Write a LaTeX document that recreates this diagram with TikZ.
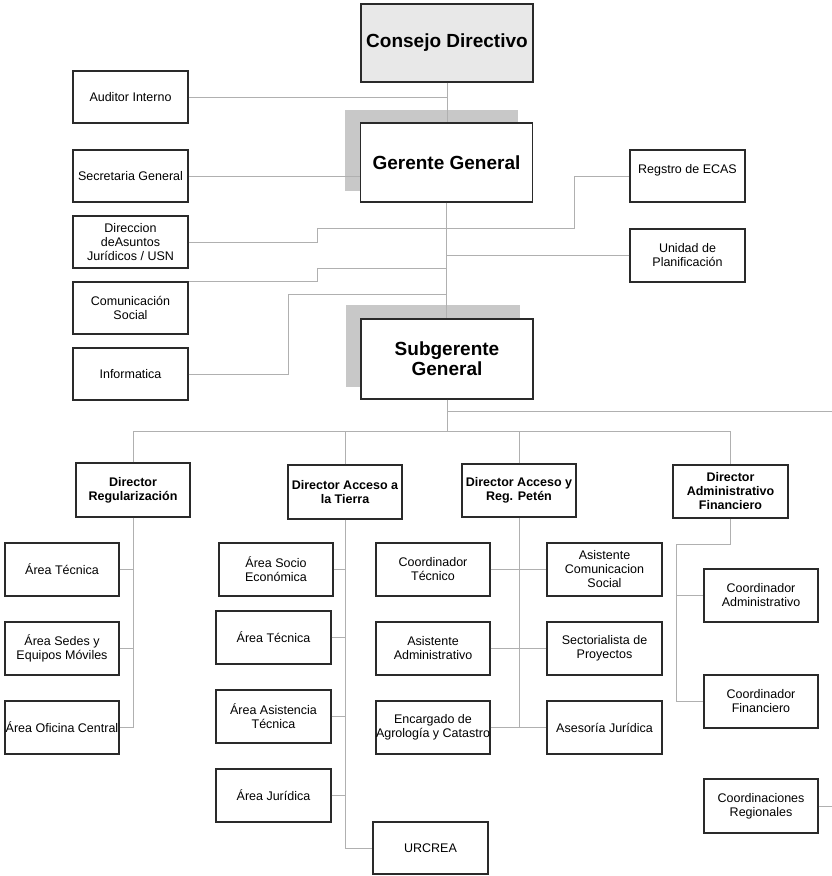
\documentclass[tikz,border=0pt]{standalone}
\usepackage{fontspec}
\setmainfont{Liberation Sans}
\usetikzlibrary{backgrounds}
\definecolor{linegray}{HTML}{B0B0B0}
\definecolor{shadegray}{HTML}{C8C8C8}
\definecolor{topfill}{HTML}{E8E8E8}
\definecolor{edgecol}{HTML}{2A2A2A}
\begin{document}
\begin{tikzpicture}[x=1pt,y=-1pt,
  box/.style={draw=edgecol, line width=1.4pt, fill=white, inner sep=0pt, align=center,
    minimum width=115pt, minimum height=53pt, font=\fontsize{12.5}{14}\selectfont},
  dirbox/.style={box, font=\fontsize{12.5}{14}\selectfont\bfseries},
  bigbox/.style={box, minimum width=172pt, minimum height=79pt, font=\fontsize{19}{20}\selectfont\bfseries},
  conn/.style={draw=linegray, line width=0.9pt},
  shade/.style={fill=shadegray}
]
\useasboundingbox (0,0) rectangle (832,876);

% top level
\node[bigbox, fill=topfill, minimum height=78pt] (cons) at (447,43) {Consejo Directivo};
\node[bigbox] (ger) at (446.5,162.5) {Gerente General};
\node[bigbox, minimum height=80pt] (sub) at (447,359) {Subgerente\\General};

% left staff
\node[box, minimum height=52pt] (aud) at (130.5,97) {Auditor Interno};
\node[box, minimum height=52pt] (sec) at (130.5,176) {Secretaria General};
\node[box, minimum height=52pt] (dja) at (130.5,242) {Direccion\\deAsuntos\\Jurídicos / USN};
\node[box, minimum height=52pt] (com) at (130.5,308) {Comunicación\\Social};
\node[box, minimum height=52pt] (inf) at (130.5,374) {Informatica};

% right staff
\node[box, minimum height=52pt] (ecas) at (687.5,176) {Regstro de ECAS\\\mbox{}};
\node[box] (upl) at (687.5,255.5) {Unidad de\\Planificación};

% directors
\node[dirbox, minimum width=114pt, minimum height=54pt] (dreg) at (133,490) {Director\\Regularización};
\node[dirbox, minimum width=114pt, minimum height=54pt] (dtie) at (345,492) {Director Acceso a\\la Tierra};
\node[dirbox, minimum width=114pt] (dpet) at (519,490.5) {Director Acceso y\\Reg. Petén};
\node[dirbox] (daf) at (730.5,491.5) {Director\\Administrativo\\Financiero};

% Regularización areas
\node[box, minimum width=114pt] (a1) at (62,569.5) {Área Técnica};
\node[box, minimum width=114pt] (a2) at (62,648.5) {Área Sedes y\\Equipos Móviles};
\node[box, minimum width=114pt] (a3) at (62,727.5) {Área Oficina Central};

% Acceso a la Tierra areas
\node[box, minimum width=114pt] (b1) at (276,569.5) {Área Socio\\Económica};
\node[box] (b2) at (273.5,637.5) {Área Técnica};
\node[box] (b3) at (273.5,716.5) {Área Asistencia\\Técnica};
\node[box] (b4) at (273.5,795.5) {Área Jurídica};
\node[box, minimum height=52pt] (b5) at (430.5,848) {URCREA};

% Petén
\node[box, minimum width=114pt] (c1) at (433,569.5) {Coordinador\\Técnico};
\node[box, minimum width=114pt] (c2) at (433,648.5) {Asistente\\Administrativo};
\node[box, minimum width=114pt] (c3) at (433,727.5) {Encargado de\\Agrología y Catastro};
\node[box] (d1) at (604.5,569.5) {Asistente\\Comunicacion\\Social};
\node[box] (d2) at (604.5,648.5) {Sectorialista de\\Proyectos};
\node[box] (d3) at (604.5,727.5) {Asesoría Jurídica};

% Administrativo Financiero
\node[box, minimum width=114pt] (e1) at (761,595.5) {Coordinador\\Administrativo};
\node[box, minimum width=114pt] (e2) at (761,701.5) {Coordinador\\Financiero};
\node[box, minimum width=114pt, minimum height=54pt] (e3) at (761,806) {Coordinaciones\\Regionales};

\coordinate (bus) at (447,431);
\coordinate (subright) at (832,411);
\coordinate (regright) at (832,806);
\coordinate (afbend) at (676,544);

\begin{scope}[on background layer]
  \fill[shade] ([shift={(-15,-12)}]ger.north west) rectangle ([shift={(-15,-12)}]ger.south east);
  \fill[shade] ([shift={(-14,-13)}]sub.north west) rectangle ([shift={(-14,-13)}]sub.south east);
\end{scope}

% connectors
\draw[conn] (cons.south) -- (cons.south |- ger.north);
\draw[conn] (aud.east) -- (aud.east -| cons.south);
\draw[conn] (sec.east) -- (sec.east -| ger.west);
\draw[conn] (ger.south) -- (ger.south |- sub.north);
\draw[conn] (upl.west) -- (upl.west -| ger.south);
\draw[conn] (dja.east) -| (317,228) -| (574,176) -- (ecas.west);
\draw[conn] (com.north east) -| (317,268) -- (ger.south |- 0,268);
\draw[conn] (inf.east) -| (288,294) -- (ger.south |- 0,294);

\draw[conn] (sub.south) -- (bus);
\draw[conn] (sub.south |- subright) -- (subright);
\draw[conn] (dreg.north) |- (daf.north |- bus) -- (daf.north);
\draw[conn] (dtie.north) -- (dtie.north |- bus);
\draw[conn] (dpet.north) -- (dpet.north |- bus);

\draw[conn] (dreg.south) -- (dreg.south |- a3.east);
\draw[conn] (a1.east) -- (a1.east -| dreg.south);
\draw[conn] (a2.east) -- (a2.east -| dreg.south);
\draw[conn] (a3.east) -- (a3.east -| dreg.south);

\draw[conn] (dtie.south) |- (b5.west);
\draw[conn] (b1.east) -- (b1.east -| dtie.south);
\draw[conn] (b2.east) -- (b2.east -| dtie.south);
\draw[conn] (b3.east) -- (b3.east -| dtie.south);
\draw[conn] (b4.east) -- (b4.east -| dtie.south);

\draw[conn] (dpet.south) -- (dpet.south |- c3.east);
\draw[conn] (c1.east) -- (d1.west);
\draw[conn] (c2.east) -- (d2.west);
\draw[conn] (c3.east) -- (d3.west);

\draw[conn] (daf.south) |- (afbend) -- (afbend |- e2.west) -- (e2.west);
\draw[conn] (afbend |- e1.west) -- (e1.west);
\draw[conn] (e3.east) -- (e3.east -| regright);
\end{tikzpicture}
\end{document}
